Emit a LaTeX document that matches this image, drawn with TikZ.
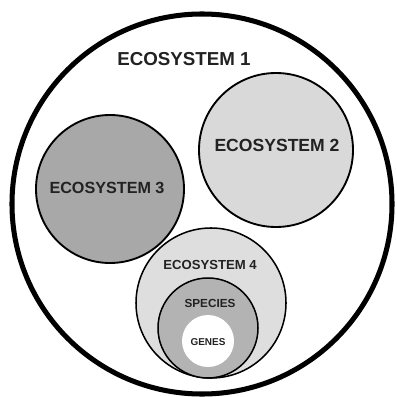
\documentclass[tikz,border=0pt]{standalone}
\usepackage{fontspec}
\setmainfont{Liberation Sans}
\usetikzlibrary{positioning}
\definecolor{ecodark}{HTML}{A8A8A8}
\definecolor{ecolight}{HTML}{D9D9D9}
\definecolor{ecopale}{HTML}{DEDEDE}
\definecolor{specgray}{HTML}{B3B3B3}
\definecolor{tagtext}{HTML}{222222}

\begin{document}
\begin{tikzpicture}[x=0.03cm, y=-0.03cm,
    ring/.style={circle, draw=black, inner sep=0pt, line width=1.6pt},
    tag/.style={font=\bfseries, text=tagtext, inner sep=0pt}]
    \useasboundingbox (0,0) rectangle (396,397);

    % circles
    \node[ring, line width=4.3pt, fill=white, minimum size=11.4cm] (eco1) at (202,204) {};
    \node[ring, fill=ecolight, minimum size=4.62cm] (eco2) at (276,150) {};
    \node[ring, fill=ecodark, minimum size=4.44cm] (eco3) at (110,189) {};
    \node[ring, fill=ecopale, line width=1.3pt, minimum size=4.5cm] (eco4) at (211,303) {};
    \node[ring, fill=specgray, line width=1.3pt, minimum size=3.0cm] (species) at (208,328) {};
    \node[ring, draw=none, fill=white, minimum size=1.56cm] (genes) at (208,341) {};

    % labels
    \node[tag, font=\bfseries\fontsize{16}{19}\selectfont] (eco1tag) at (184,59) {ECOSYSTEM 1};
    \node[tag, font=\bfseries\fontsize{15}{18}\selectfont] (eco2tag) at (277,145) {ECOSYSTEM 2};
    \node[tag, font=\bfseries\fontsize{13.8}{16}\selectfont] (eco3tag) at (107,188) {ECOSYSTEM 3};
    \node[tag, font=\bfseries\fontsize{11.2}{13}\selectfont] (eco4tag) at (210,265) {ECOSYSTEM 4};
    \node[tag, font=\bfseries\fontsize{10}{12}\selectfont] (speciestag) at (210,303) {SPECIES};
    \node[tag, font=\bfseries\fontsize{8.5}{10}\selectfont] (genestag) at (208,342) {GENES};
\end{tikzpicture}
\end{document}
